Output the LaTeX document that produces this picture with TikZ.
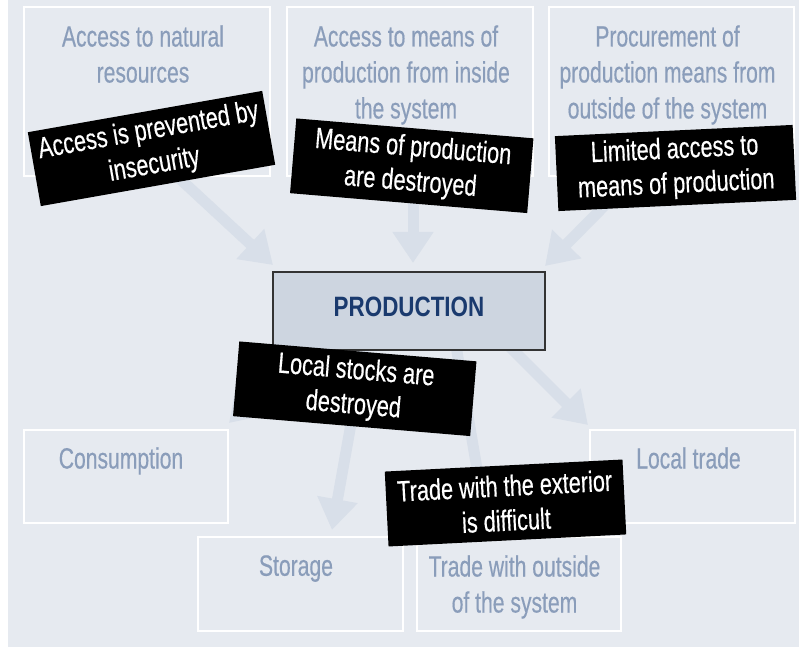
\documentclass[tikz,border=0pt]{standalone}
\usepackage{fontspec}
\setmainfont[FakeStretch=0.72,FakeBold=0.4]{Liberation Sans}
\newfontfamily\prodfont[FakeStretch=0.8]{Liberation Sans}
\newfontfamily\labfont[FakeStretch=0.74,FakeBold=0.4]{Liberation Sans}
\usetikzlibrary{arrows.meta}
\definecolor{bgc}{HTML}{E6EAF0}
\definecolor{arrowc}{HTML}{D8DFE9}
\definecolor{boxtextc}{HTML}{8A9DBA}
\definecolor{prodfill}{HTML}{CDD5E0}
\definecolor{prodtext}{HTML}{1A3A6E}
\definecolor{prodborder}{HTML}{333333}
\tikzset{
  box/.style={draw=white, line width=1.1pt, inner sep=0pt},
  btext/.style={text=boxtextc, font=\fontsize{22}{27}\selectfont, align=center, inner sep=0pt},
  lab/.style={fill=black, text=white, minimum width=178.5pt, minimum height=56.25pt,
    align=center, inner sep=0pt, font=\labfont\fontsize{22}{26}\selectfont},
  fat/.style={draw=arrowc, line width=8.25pt, -{Triangle[length=23.25pt,width=29.25pt]}}
}
\begin{document}
\begin{tikzpicture}[x=0.75pt,y=-0.75pt]
\useasboundingbox (0,0) rectangle (799,648);
\fill[bgc] (8,0) rectangle (799,647);

% boxes
\node[box, minimum width=184.5pt, minimum height=126.75pt] (b1) at (147,91.5) {};
\node[box, minimum width=184.5pt, minimum height=126.75pt] (b2) at (410,91.5) {};
\node[box, minimum width=183.75pt, minimum height=126.75pt] (b3) at (671.5,91.5) {};
\node[box, minimum width=153pt, minimum height=69.75pt] (cons) at (126,476.5) {};
\node[box, minimum width=153.75pt, minimum height=69.75pt] (ltrade) at (692.5,476.5) {};
\node[box, minimum width=153.75pt, minimum height=70.5pt] (stor) at (300.5,584) {};
\node[box, minimum width=153pt, minimum height=70.5pt] (xtrade) at (519,584) {};

% box texts
\node[btext, anchor=north] (t1) at (143,25) {Access to natural\\resources};
\node[btext, anchor=north] (t2) at (406,25) {Access to means of\\production from inside\\the system};
\node[btext, anchor=north] (t3) at (667.5,25) {Procurement of\\production means from\\outside of the system};
\node[btext, anchor=north] (tc) at (121,447) {Consumption};
\node[btext, anchor=north] (tl) at (688.5,447) {Local trade};
\node[btext, anchor=north] (ts) at (296,555) {Storage};
\node[btext, anchor=north] (tx) at (514.5,555) {Trade with outside\\of the system};

% arrow end points
\coordinate (a1s) at (165,165);  \coordinate (a1e) at (273,265);
\coordinate (a2s) at (413,200);  \coordinate (a2e) at (413,263);
\coordinate (a3s) at (615,195);  \coordinate (a3e) at (545,266);
\coordinate (a4s) at (500,337);  \coordinate (a4e) at (588,425);
\coordinate (a5s) at (366,340);  \coordinate (a5e) at (332,530);
\coordinate (a6s) at (455,340);  \coordinate (a6e) at (488,533);
\coordinate (a7s) at (305,345);  \coordinate (a7e) at (229,423);

\draw[fat] (a1s) -- (a1e);
\draw[fat] (a2s) -- (a2e);
\draw[fat] (a3s) -- (a3e);
\draw[fat] (a4s) -- (a4e);
\draw[fat] (a5s) -- (a5e);
\draw[fat] (a6s) -- (a6e);
\draw[fat] (a7s) -- (a7e);

% production
\node[draw=prodborder, fill=prodfill, line width=0.9pt, minimum width=204pt, minimum height=58.5pt, inner sep=0pt] (prod) at (409,311) {};
\node[text=prodtext, font=\prodfont\bfseries\fontsize{21}{25}\selectfont, inner sep=0pt] (tp) at (409,307) {PRODUCTION};

% black labels
\node[lab, rotate=10] (l1) at (151.5,148.5) {Access is prevented by\\insecurity};
\node[lab, rotate=-4.8] (l2) at (411.75,165.75) {Means of production\\are destroyed};
\node[lab, rotate=2.7] (l3) at (675.5,168) {Limited access to\\means of production};
\node[lab, rotate=-4.8] (l4) at (354.75,388.75) {Local stocks are\\destroyed};
\node[lab, rotate=2.9] (l5) at (505.5,503) {Trade with the exterior\\is difficult};
\end{tikzpicture}
\end{document}
